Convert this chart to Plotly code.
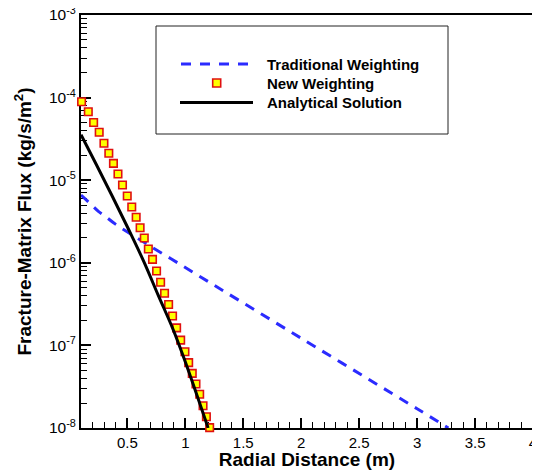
import plotly.graph_objects as go

# ---------------- data ----------------
new_x = [0.105, 0.163, 0.209, 0.257, 0.298, 0.340, 0.380, 0.419, 0.458, 0.499,
         0.538, 0.576, 0.610, 0.646, 0.681, 0.717, 0.752, 0.787, 0.821, 0.856,
         0.890, 0.925, 0.960, 0.997, 1.029, 1.060, 1.092, 1.124, 1.153, 1.182, 1.210]
new_y = [8.9e-5, 6.75e-5, 5.0e-5, 3.8e-5, 2.8e-5, 2.12e-5, 1.6e-5, 1.19e-5, 8.75e-6, 6.44e-6,
         4.74e-6, 3.56e-6, 2.66e-6, 2.0e-6, 1.47e-6, 1.1e-6, 7.96e-7, 5.81e-7, 4.28e-7, 3.13e-7,
         2.27e-7, 1.63e-7, 1.16e-7, 8.39e-8, 6.18e-8, 4.59e-8, 3.41e-8, 2.56e-8, 1.86e-8, 1.37e-8, 1.01e-8]

trad_x = [0.1, 0.15, 0.2, 0.25, 0.3, 0.4, 1.0, 2.0, 3.0, 3.27]
trad_y = [6.62e-6, 5.69e-6, 4.88e-6, 4.2e-6, 3.74e-6, 2.92e-6, 8.77e-7, 1.22e-7, 1.71e-8, 1.0e-8]

ana_x = [0.1, 0.232, 0.369, 0.507, 0.644, 0.764, 0.893, 0.998, 1.197]
ana_y = [3.56e-5, 1.55e-5, 6.44e-6, 2.60e-6, 1.02e-6, 4.11e-7, 1.58e-7, 6.43e-8, 1.0e-8]

y_tick_vals = [1e-8, 1e-7, 1e-6, 1e-5, 1e-4, 1e-3]
y_tick_text = ["10<sup>-8</sup>", "10<sup>-7</sup>", "10<sup>-6</sup>",
               "10<sup>-5</sup>", "10<sup>-4</sup>", "10<sup>-3</sup>"]
y_minor_vals = [k * 10.0 ** e for e in range(-8, -3) for k in range(2, 10)]

legend_names = ["Traditional Weighting", "New Weighting", "Analytical Solution"]

FONT = "Liberation Sans, Arial, sans-serif"
BLUE = "#2b2bff"

fig = go.Figure()
fig.add_trace(go.Scatter(x=trad_x, y=trad_y, mode="lines", line_shape="spline",
                         line=dict(color=BLUE, width=3, dash="10px,8px"),
                         name=legend_names[0], showlegend=False))
fig.add_trace(go.Scatter(x=new_x, y=new_y, mode="markers", cliponaxis=False,
                         marker=dict(symbol="square", size=7.5, color="#ffff00",
                                     line=dict(color="#e01010", width=1.6)),
                         name=legend_names[1], showlegend=False))
fig.add_trace(go.Scatter(x=ana_x, y=ana_y, mode="lines", line_shape="spline",
                         line=dict(color="black", width=3),
                         name=legend_names[2], showlegend=False))

# ---- manual legend (page has an 8px body margin, so figure is offset by 8px) ----
OFF = 8
L, R, T, B = 81, 533, 15, 428          # plot area in screenshot pixels
W, H = 540 - OFF, 470 - OFF
def px(xp): return (xp - L) / (R - L)
def py(yp): return (B - yp) / (B - T)

shapes = [
    dict(type="rect", xref="paper", yref="paper", x0=px(156), x1=px(448), y0=py(134), y1=py(26),
         line=dict(color="#222222", width=1), fillcolor="white", layer="below"),
    dict(type="line", xref="paper", yref="paper", x0=px(181), x1=px(253), y0=py(64), y1=py(64),
         line=dict(color=BLUE, width=3, dash="10px,9px")),
    dict(type="rect", xref="paper", yref="paper", xsizemode="pixel", ysizemode="pixel",
         xanchor=px(216.7), yanchor=py(83), x0=-4, x1=4, y0=-4, y1=4,
         fillcolor="#ffff00", line=dict(color="#e01010", width=1.6)),
    dict(type="line", xref="paper", yref="paper", x0=px(180), x1=px(253), y0=py(102.5), y1=py(102.5),
         line=dict(color="black", width=3)),
]
annotations = []
for name, yy in zip(legend_names, [64, 83, 102.5]):
    annotations.append(dict(xref="paper", yref="paper", x=px(265), y=py(yy), text="<b>%s</b>" % name,
                            showarrow=False, xanchor="left", yanchor="middle",
                            font=dict(family=FONT, size=15, color="black")))

fig.update_layout(
    width=W, height=H,
    margin=dict(l=L - OFF, r=540 - R, t=T - OFF, b=470 - B, autoexpand=False),
    paper_bgcolor="white", plot_bgcolor="white",
    font=dict(family=FONT, color="black"),
    shapes=shapes, annotations=annotations,
    showlegend=False,
)
fig.update_xaxes(
    automargin=False, ticklabeloverflow="allow",
    range=[0.1, 4], dtick=0.5, tick0=0, showgrid=False, zeroline=False,
    showline=True, linecolor="black", linewidth=2, mirror=True, layer="below traces",
    ticks="inside", ticklen=10, tickwidth=2, tickcolor="black",
    tickfont=dict(family=FONT, size=15, color="black"),
    minor=dict(dtick=0.1, tick0=0, ticks="inside", ticklen=6, tickwidth=1, tickcolor="black", showgrid=False),
    title=dict(text="<b>Radial Distance (m)</b>", font=dict(family=FONT, size=19, color="black"), standoff=0),
)
fig.update_yaxes(
    automargin=False, ticklabeloverflow="allow",
    type="log", range=[-8, -3], tickmode="array", tickvals=y_tick_vals, ticktext=y_tick_text,
    showgrid=False, zeroline=False,
    showline=True, linecolor="black", linewidth=2, mirror=True, layer="below traces",
    ticks="inside", ticklen=10, tickwidth=2, tickcolor="black",
    tickfont=dict(family=FONT, size=15.5, color="black"),
    minor=dict(tickmode="array", tickvals=y_minor_vals, ticks="inside", ticklen=6, tickwidth=1,
               tickcolor="black", showgrid=False),
    title=dict(text="<b>Fracture-Matrix Flux (kg/s/m<sup>2</sup>)</b>",
               font=dict(family=FONT, size=19, color="black"), standoff=12),
)

fig.write_html("out.html")
